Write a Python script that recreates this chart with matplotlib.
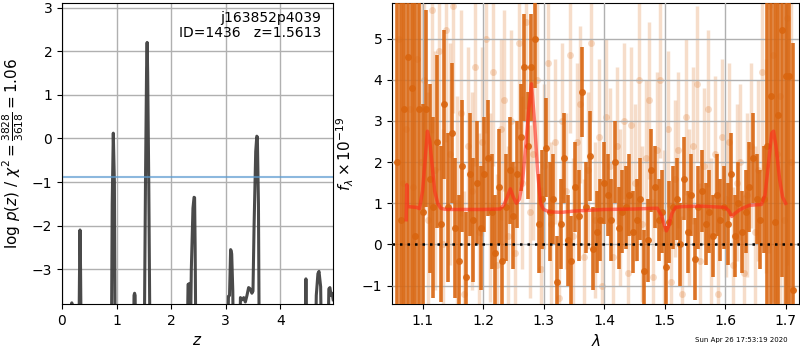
"""Redshift fit summary: log p(z) on the left, 1D spectrum + model on the right."""

import matplotlib
matplotlib.use("Agg")
import matplotlib.pyplot as plt
import numpy as np

# --- p(z) curve ------------------------------------------------------------
pz_z = [0.00, 0.17, 0.18, 0.19, 0.30, 0.32, 0.33, 0.34, 0.36,
        0.90, 0.92, 0.94, 0.96, 0.98,
        1.30, 1.32, 1.33, 1.34, 1.36,
        1.50, 1.53, 1.55, 1.56, 1.57, 1.59, 1.62,
        2.28, 2.31, 2.33, 2.35, 2.37, 2.40, 2.42, 2.43, 2.44, 2.46,
        3.02, 3.05, 3.07, 3.09, 3.10, 3.11, 3.13, 3.15,
        3.24, 3.27, 3.30, 3.33, 3.36, 3.39, 3.42, 3.45, 3.48, 3.50,
        3.52, 3.55, 3.57, 3.58, 3.60, 3.62,
        4.44, 4.47, 4.50,
        4.63, 4.66, 4.69, 4.71, 4.74, 4.77,
        4.86, 4.89, 4.91, 4.93, 4.95, 4.97]
pz_logp = [-6.0, -6.0, -3.77, -6.0, -6.0, -3.2, -2.1, -3.0, -6.0,
           -6.0, -1.5, 0.12, -1.0, -6.0,
           -6.0, -3.6, -3.55, -3.6, -6.0,
           -6.0, -1.0, 1.6, 2.2, 1.5, -1.0, -6.0,
           -6.0, -3.35, -3.33, -5.0, -3.0, -1.6, -1.35, -1.36, -2.5, -6.0,
           -6.0, -3.62, -3.6, -2.55, -2.58, -2.65, -3.5, -6.0,
           -6.0, -3.65, -3.7, -3.65, -3.75, -3.6, -3.42, -3.45, -3.55, -3.5,
           -2.0, -0.3, 0.05, 0.03, -1.5, -6.0,
           -6.0, -3.22, -6.0,
           -6.0, -3.6, -3.1, -3.05, -3.4, -6.0,
           -6.0, -3.45, -3.42, -3.6, -3.55, -3.7]
chi2_line = -0.885

# --- spectrum, primary (dark) points ---------------------------------------
wave_a = [1.058, 1.064, 1.070, 1.076, 1.082, 1.088, 1.094, 1.100, 1.106, 1.112,
          1.118, 1.124, 1.130, 1.136, 1.142, 1.148, 1.154, 1.160, 1.166, 1.172,
          1.178, 1.184, 1.190, 1.196, 1.202, 1.208, 1.214, 1.220, 1.226, 1.232,
          1.238, 1.244, 1.250, 1.256, 1.262, 1.268, 1.274, 1.280, 1.286, 1.292,
          1.298, 1.304, 1.310, 1.316, 1.322, 1.328, 1.334, 1.340, 1.346, 1.352,
          1.358, 1.364, 1.370, 1.376, 1.382, 1.388, 1.394, 1.400, 1.406, 1.412,
          1.418, 1.424, 1.430, 1.436, 1.442, 1.448, 1.454, 1.460, 1.466, 1.472,
          1.478, 1.484, 1.490, 1.496, 1.502, 1.508, 1.514, 1.520, 1.526, 1.532,
          1.538, 1.544, 1.550, 1.556, 1.562, 1.568, 1.574, 1.580, 1.586, 1.592,
          1.598, 1.604, 1.610, 1.616, 1.622, 1.628, 1.634, 1.640, 1.646, 1.652,
          1.658, 1.664, 1.670, 1.676, 1.682, 1.688, 1.694, 1.700, 1.706, 1.712]
flux_a = [2.0, 0.6, 3.3, 4.55, 3.8, 0.2, 3.3, 0.8, 3.3, 1.6,
          0.9, 2.5, 0.5, 3.4, 0.9, 2.7, 0.4, -0.4, 1.9, -0.8,
          1.7, 0.6, 1.5, 0.4, 1.7, 2.1, 0.8, -0.2, 1.4, -0.4,
          0.9, 1.8, 0.7, 1.7, 2.6, 4.3, 2.4, 4.3, 5.0, 0.5,
          1.1, 2.35, 0.8, 1.1, -0.9, 0.5, 2.1, 0.1, -0.4, 1.4,
          0.7, 3.7, 0.9, 2.15, -0.1, 0.3, 0.6, 1.5, 1.2, 0.6,
          2.0, 0.4, 0.8, 0.9, 1.2, 0.3, 0.6, 1.1, -0.65, 0.1,
          1.8, 1.4, 0.6, 0.8, -0.55, 0.55, 0.9, 1.1, 0.0, 1.6,
          0.3, 1.2, -0.35, 0.9, 1.3, 0.5, 0.8, 0.2, 1.2, 0.6,
          0.9, 0.5, 1.7, 0.2, 1.0, 0.3, 0.8, 1.4, 2.1, 1.1,
          0.6, 1.1, 2.4, 3.6, 0.55, 3.15, 5.2, 4.1, 4.1, -1.1]
err_a = [6.0, 6.0, 6.0, 6.0, 6.0, 6.0, 6.0, 2.6, 2.4, 2.3,
         2.2, 2.1, 1.9, 1.8, 1.8, 1.7, 1.7, 1.6, 1.6, 1.6,
         1.5, 1.5, 1.5, 1.5, 1.4, 1.4, 1.4, 1.4, 1.4, 1.3,
         1.3, 1.3, 1.3, 1.3, 1.3, 1.3, 1.3, 1.3, 1.2, 1.2,
         1.2, 1.2, 1.2, 1.1, 1.1, 1.1, 1.1, 1.1, 1.1, 1.1,
         1.1, 1.1, 1.1, 1.1, 1.0, 1.0, 1.0, 1.0, 1.0, 1.0,
         1.0, 1.0, 1.0, 1.0, 1.0, 1.0, 1.0, 1.0, 1.0, 1.0,
         1.0, 1.0, 1.0, 1.0, 1.0, 1.0, 1.0, 1.0, 1.0, 1.0,
         1.0, 1.0, 1.0, 1.0, 1.0, 1.0, 1.0, 1.0, 1.0, 1.0,
         1.0, 1.0, 1.0, 1.0, 1.0, 1.0, 1.0, 1.1, 1.1, 1.1,
         1.2, 1.3, 6.0, 6.0, 6.0, 6.0, 6.0, 6.0, 6.0, 6.0]

# --- spectrum, secondary (light) points ------------------------------------
wave_b = [1.061, 1.067, 1.073, 1.079, 1.085, 1.091, 1.097, 1.103, 1.109, 1.115,
          1.121, 1.127, 1.133, 1.139, 1.145, 1.151, 1.157, 1.163, 1.169, 1.175,
          1.181, 1.187, 1.193, 1.199, 1.205, 1.211, 1.217, 1.223, 1.229, 1.235,
          1.241, 1.247, 1.253, 1.259, 1.265, 1.271, 1.277, 1.283, 1.289, 1.295,
          1.301, 1.307, 1.313, 1.319, 1.325, 1.331, 1.337, 1.343, 1.349, 1.355,
          1.361, 1.367, 1.373, 1.379, 1.385, 1.391, 1.397, 1.403, 1.409, 1.415,
          1.421, 1.427, 1.433, 1.439, 1.445, 1.451, 1.457, 1.463, 1.469, 1.475,
          1.481, 1.487, 1.493, 1.499, 1.505, 1.511, 1.517, 1.523, 1.529, 1.535,
          1.541, 1.547, 1.553, 1.559, 1.565, 1.571, 1.577, 1.583, 1.589, 1.595,
          1.601, 1.607, 1.613, 1.619, 1.625, 1.631, 1.637, 1.643, 1.649, 1.655,
          1.661, 1.667, 1.673, 1.679, 1.685, 1.691, 1.697, 1.703, 1.709]
flux_b = [5.0, 1.5, 2.8, 3.3, 1.4, 4.5, 2.0, 4.0, 0.6, 5.7,
          1.8, 4.7, 0.0, 5.2, 2.2, 5.8, 1.0, 3.2, -1.2, 2.4,
          1.3, 4.3, 0.3, 2.5, 5.0, 0.9, 4.2, -0.5, 2.8, 3.5,
          0.2, 3.0, -0.2, 4.9, 1.5, 5.4, 0.8, 2.2, 4.0, -0.6,
          1.9, 4.4, 0.5, 2.5, -1.3, 3.0, 1.3, 4.6, 0.2, 2.5,
          3.4, -0.3, 1.8, 4.9, 0.6, 2.6, -1.0, 3.1, 1.9, -0.3,
          2.4, 0.9, 3.0, -0.7, 2.9, 1.5, 4.0, 0.5, 2.1, 3.5,
          -0.8, 2.3, 4.0, 0.4, 2.8, -0.9, 1.6, 2.3, -1.2, 3.1,
          0.9, 2.4, 3.9, -0.4, 1.9, 3.3, 0.2, 2.2, -1.2, 2.6,
          1.1, 2.5, -0.5, 1.5, 2.0, -0.7, 1.2, 2.4, 0.3, 1.8,
          4.2, 1.9, 5.8, 4.6, 2.2, 3.6, 0.6, 5.5, 2.0]
err_b = [6.0, 6.0, 6.0, 6.0, 6.0, 6.0, 6.0, 3.2, 3.1, 3.0,
         2.9, 2.9, 2.8, 2.7, 2.7, 2.6, 2.6, 2.5, 2.5, 2.4,
         2.4, 2.4, 2.4, 2.3, 2.3, 2.3, 2.3, 2.2, 2.2, 2.2,
         2.2, 2.2, 2.1, 2.1, 2.1, 2.1, 2.1, 2.1, 2.0, 2.0,
         2.0, 2.0, 2.0, 2.0, 1.9, 1.9, 1.9, 1.9, 1.9, 1.9,
         1.9, 1.9, 1.9, 1.9, 1.9, 1.9, 1.9, 1.9, 1.9, 1.9,
         1.9, 1.9, 1.9, 1.9, 1.9, 1.9, 1.9, 1.9, 1.9, 1.9,
         1.9, 1.9, 1.9, 1.9, 1.9, 1.9, 1.9, 1.9, 1.9, 1.9,
         1.9, 1.9, 1.9, 1.9, 1.9, 1.9, 1.9, 1.9, 1.9, 1.9,
         1.9, 1.9, 1.9, 1.9, 1.9, 1.9, 2.0, 2.0, 2.1, 2.2,
         2.4, 2.6, 6.0, 6.0, 6.0, 6.0, 6.0, 6.0, 6.0]

# --- best-fit model ---------------------------------------------------------
model_wave = [1.073, 1.074, 1.075, 1.090, 1.095, 1.100, 1.104, 1.108, 1.112, 1.116,
              1.120, 1.125, 1.130, 1.135, 1.140, 1.200, 1.228, 1.234, 1.240, 1.245,
              1.250, 1.255, 1.260, 1.265, 1.270, 1.275, 1.280, 1.285, 1.290, 1.295,
              1.300, 1.310, 1.330, 1.350, 1.400, 1.450, 1.488, 1.495, 1.500, 1.503,
              1.507, 1.512, 1.518, 1.530, 1.560, 1.600, 1.606, 1.611, 1.616, 1.625,
              1.640, 1.660, 1.666, 1.672, 1.677, 1.680, 1.684, 1.690, 1.695, 1.700]
model_flux = [0.6, 1.45, 0.92, 0.9, 0.87, 1.3, 2.0, 2.75, 2.5, 1.9,
              1.3, 1.0, 0.88, 0.86, 0.85, 0.85, 0.86, 0.95, 1.15, 1.35,
              1.15, 1.0, 1.1, 1.5, 2.3, 3.2, 3.9, 3.0, 1.8, 1.0,
              0.85, 0.79, 0.78, 0.81, 0.85, 0.86, 0.88, 0.7, 0.45, 0.33,
              0.45, 0.75, 0.9, 0.92, 0.93, 0.9, 0.82, 0.68, 0.75, 0.85,
              0.95, 0.97, 1.2, 2.0, 2.7, 2.75, 2.4, 1.6, 1.15, 1.0]

DARK = "#d9650f"
GRID = "#b0b0b0"

fig = plt.figure(figsize=(8.0, 3.5), dpi=100)
ax_pz = fig.add_axes([0.0775, 0.131, 0.339, 0.860])
ax_sp = fig.add_axes([0.490, 0.131, 0.509, 0.860])

# left: log p(z)
ax_pz.plot(pz_z, pz_logp, color="#404040", lw=2.2, alpha=0.95)
ax_pz.axhline(chi2_line, color="#5b9bd0", lw=1.5, alpha=0.7)
ax_pz.set_xlim(0, 4.97)
ax_pz.set_ylim(-3.8, 3.1)
ax_pz.set_xticks([0, 1, 2, 3, 4])
ax_pz.set_yticks([-3, -2, -1, 0, 1, 2, 3])
ax_pz.grid(color=GRID, lw=1)
ax_pz.set_axisbelow(True)
ax_pz.set_xlabel(r"$z$", fontsize=11)
ax_pz.set_ylabel(r"log $p(z)$ / $\chi^2=\frac{3828}{3618}=1.06$", fontsize=11)
ax_pz.text(0.955, 0.975, "j163852p4039\nID=1436   z=1.5613",
           transform=ax_pz.transAxes, ha="right", va="top", fontsize=10,
           linespacing=1.15)

# right: spectrum
ax_sp.errorbar(wave_b, flux_b, yerr=err_b, fmt="o", color=DARK, ms=5,
               elinewidth=2.5, alpha=0.22, mew=0, zorder=2)
ax_sp.errorbar(wave_a, flux_a, yerr=err_a, fmt="o", color=DARK, ms=5,
               elinewidth=2.6, alpha=0.9, mew=0, zorder=3)
ax_sp.plot(model_wave, model_flux, color="#ff2a1a", lw=2.5, alpha=0.6, zorder=5)
ax_sp.axhline(0, color="k", ls=(0, (1, 2)), lw=1.8, zorder=6)
ax_sp.set_xlim(1.0495, 1.7225)
ax_sp.set_ylim(-1.45, 5.86)
ax_sp.set_xticks([1.1, 1.2, 1.3, 1.4, 1.5, 1.6, 1.7])
ax_sp.set_yticks([-1, 0, 1, 2, 3, 4, 5])
ax_sp.grid(color=GRID, lw=1)
ax_sp.set_axisbelow(False)
for gl in ax_sp.get_xgridlines() + ax_sp.get_ygridlines():
    gl.set_zorder(4)
ax_sp.set_xlabel(r"$\lambda$", fontsize=11)
ax_sp.set_ylabel(r"$f_\lambda\times10^{-19}$", fontsize=11)

fig.text(0.984, 0.02, "Sun Apr 26 17:53:19 2020", ha="right", va="bottom",
         fontsize=5)

fig.savefig("out.png", dpi=100)
